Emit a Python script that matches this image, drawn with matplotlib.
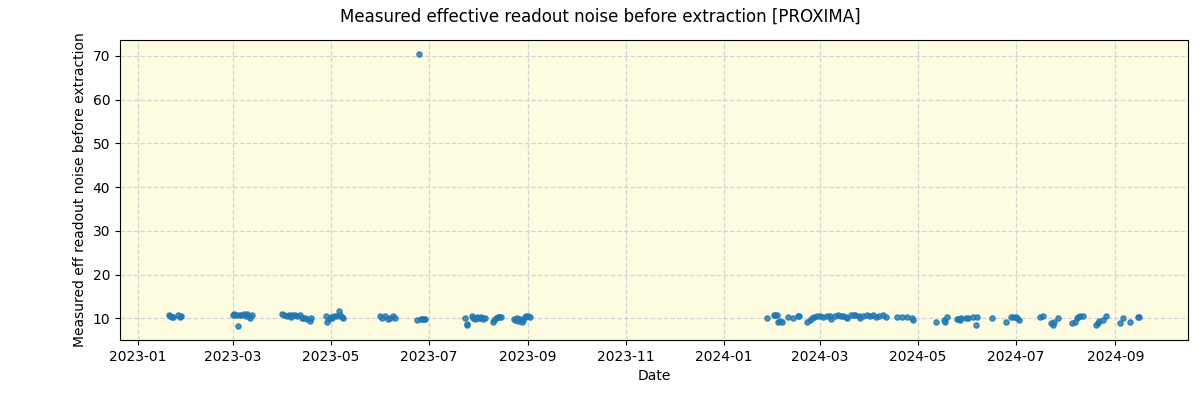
import matplotlib
matplotlib.use("Agg")
import matplotlib.pyplot as plt
import pandas as pd

dates = [
    "2023-01-20", "2023-01-21", "2023-01-22", "2023-01-23", "2023-01-26", "2023-01-27", "2023-01-28",
    "2023-03-01", "2023-03-02", "2023-03-03", "2023-03-04", "2023-03-05", "2023-03-06", "2023-03-08",
    "2023-03-09", "2023-03-10", "2023-03-11", "2023-03-12", "2023-03-13",
    "2023-04-01", "2023-04-02", "2023-04-04", "2023-04-05", "2023-04-06", "2023-04-07", "2023-04-09",
    "2023-04-10", "2023-04-12", "2023-04-13", "2023-04-14", "2023-04-15", "2023-04-16", "2023-04-18",
    "2023-04-19",
    "2023-04-28", "2023-04-29", "2023-04-30", "2023-05-01", "2023-05-02", "2023-05-03", "2023-05-05",
    "2023-05-06", "2023-05-07", "2023-05-08", "2023-05-09",
    "2023-06-01", "2023-06-02", "2023-06-04", "2023-06-06", "2023-06-07", "2023-06-09", "2023-06-10",
    "2023-06-24", "2023-06-25", "2023-06-26", "2023-06-27", "2023-06-28", "2023-06-29",
    "2023-07-24", "2023-07-25", "2023-07-25", "2023-07-28", "2023-07-29", "2023-07-30", "2023-07-31",
    "2023-08-01", "2023-08-02", "2023-08-03", "2023-08-04", "2023-08-05",
    "2023-08-10", "2023-08-11", "2023-08-12", "2023-08-13", "2023-08-14", "2023-08-15",
    "2023-08-23", "2023-08-24", "2023-08-25", "2023-08-26", "2023-08-27", "2023-08-28", "2023-08-29",
    "2023-08-30", "2023-08-31", "2023-09-01", "2023-09-02",
    "2024-01-28", "2024-02-01", "2024-02-02", "2024-02-03", "2024-02-04", "2024-02-05", "2024-02-06",
    "2024-02-10", "2024-02-13", "2024-02-16", "2024-02-17",
    "2024-02-22", "2024-02-24", "2024-02-25", "2024-02-26", "2024-02-28", "2024-03-01", "2024-03-03",
    "2024-03-05", "2024-03-07", "2024-03-08", "2024-03-10", "2024-03-12", "2024-03-14", "2024-03-15",
    "2024-03-17", "2024-03-18", "2024-03-20", "2024-03-22", "2024-03-23", "2024-03-25", "2024-03-26",
    "2024-03-28", "2024-03-30", "2024-04-01", "2024-04-03", "2024-04-05", "2024-04-07", "2024-04-09",
    "2024-04-11", "2024-04-18", "2024-04-21", "2024-04-24", "2024-04-27", "2024-04-28",
    "2024-05-12", "2024-05-17", "2024-05-18", "2024-05-19", "2024-05-25", "2024-05-26", "2024-05-27",
    "2024-05-28", "2024-05-31", "2024-06-01", "2024-06-04", "2024-06-06", "2024-06-07",
    "2024-06-16", "2024-06-25", "2024-06-28", "2024-06-29", "2024-07-01", "2024-07-02", "2024-07-03",
    "2024-07-16", "2024-07-18", "2024-07-23", "2024-07-24", "2024-07-25", "2024-07-27",
    "2024-08-05", "2024-08-07", "2024-08-08", "2024-08-09", "2024-08-10", "2024-08-12",
    "2024-08-20", "2024-08-21", "2024-08-22", "2024-08-24", "2024-08-26",
    "2024-09-04", "2024-09-06", "2024-09-10", "2024-09-15", "2024-09-16",
]
noise = [
    10.9, 10.6, 10.4, 10.3, 10.7, 10.4, 10.5,
    10.9, 11.0, 10.8, 8.2, 10.9, 10.7, 11.0,
    10.6, 11.1, 10.5, 10.2, 10.8,
    11.0, 10.8, 10.5, 10.9, 10.3, 10.8, 10.9,
    10.6, 10.9, 10.2, 10.0, 10.1, 9.8, 9.4,
    10.0,
    10.5, 9.3, 9.8, 10.4, 10.2, 10.6, 10.5,
    11.8, 10.8, 10.3, 10.2,
    10.6, 10.2, 10.5, 9.9, 10.0, 10.5, 10.2,
    9.6, 70.5, 9.8, 9.9, 9.8, 9.9,
    10.2, 8.8, 8.4, 10.5, 10.2, 9.8, 10.4,
    10.0, 10.1, 10.3, 9.9, 10.0,
    9.3, 9.7, 10.1, 10.4, 10.4, 10.3,
    9.8, 9.6, 10.0, 9.4, 9.9, 9.2, 9.7,
    10.3, 10.6, 10.5, 10.4,
    10.2, 10.7, 10.7, 10.9, 9.2, 9.5, 9.3,
    10.4, 10.1, 10.6, 10.6,
    9.2, 9.6, 10.1, 10.4, 10.5, 10.6, 10.4,
    10.6, 10.5, 9.9, 10.6, 10.7, 10.5, 10.6,
    10.3, 10.2, 10.8, 10.7, 10.8, 10.6, 10.0,
    10.5, 10.7, 10.6, 10.8, 10.3, 10.5, 10.9,
    10.4, 10.3, 10.3, 10.4, 10.2, 9.7,
    9.3, 9.6, 9.3, 10.3, 9.9, 9.8, 9.7,
    10.0, 10.1, 10.0, 10.3, 8.5, 10.4,
    10.0, 9.2, 10.3, 10.4, 10.3, 10.0, 9.6,
    10.3, 10.6, 9.0, 8.6, 9.2, 10.2,
    9.0, 9.2, 10.0, 10.3, 10.5, 10.6,
    8.5, 9.0, 9.4, 9.6, 10.6,
    9.0, 10.1, 9.3, 10.3, 10.3,
]

x = pd.to_datetime(dates)

fig, ax = plt.subplots(figsize=(12, 4), dpi=100)
ax.set_facecolor("#fdfce1")
ax.scatter(x, noise, s=14, color="tab:blue", alpha=0.8, zorder=3)

ax.grid(True, linestyle="--", color="#d4d4d4", linewidth=0.9)
ax.set_axisbelow(True)
ax.set_xlabel("Date")
ax.set_ylabel("Measured eff readout noise before extraction")
fig.suptitle("Measured effective readout noise before extraction [PROXIMA]")

fig.subplots_adjust(left=0.1, right=0.99, top=0.9, bottom=0.15)
fig.savefig("out.png")
